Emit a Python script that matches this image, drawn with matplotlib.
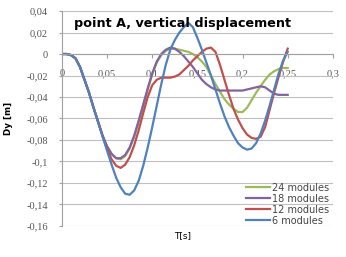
import numpy as np
from matplotlib import pyplot as plt
from matplotlib.ticker import FuncFormatter, MultipleLocator

# time axis [s]
t = [0, 0.005, 0.01, 0.015, 0.02, 0.025, 0.03, 0.035, 0.04, 0.045,
     0.05, 0.055, 0.06, 0.065, 0.07, 0.075, 0.08, 0.085, 0.09, 0.095,
     0.1, 0.105, 0.11, 0.115, 0.12, 0.125, 0.13, 0.135, 0.14, 0.145,
     0.15, 0.155, 0.16, 0.165, 0.17, 0.175, 0.18, 0.185, 0.19, 0.195,
     0.2, 0.205, 0.21, 0.215, 0.22, 0.225, 0.23, 0.235, 0.24, 0.245, 0.25]

dy_24 = [0, 0, -0.001, -0.004, -0.012, -0.024, -0.036, -0.050, -0.063, -0.076,
         -0.086, -0.093, -0.097, -0.098, -0.095, -0.088, -0.077, -0.063, -0.048, -0.033,
         -0.019, -0.008, -0.001, 0.003, 0.005, 0.005, 0.004, 0.003, 0.002, 0.000,
         -0.003, -0.007, -0.012, -0.020, -0.028, -0.035, -0.042, -0.047, -0.051, -0.054,
         -0.054, -0.050, -0.043, -0.036, -0.030, -0.024, -0.019, -0.016, -0.014, -0.013, -0.013]

dy_18 = [0, 0, -0.001, -0.004, -0.012, -0.024, -0.036, -0.050, -0.063, -0.076,
         -0.086, -0.093, -0.097, -0.097, -0.094, -0.087, -0.076, -0.062, -0.047, -0.032,
         -0.018, -0.007, 0.000, 0.004, 0.006, 0.005, 0.002, -0.002, -0.007, -0.012,
         -0.018, -0.024, -0.028, -0.031, -0.033, -0.034, -0.034, -0.034, -0.034, -0.034,
         -0.034, -0.033, -0.032, -0.031, -0.030, -0.031, -0.034, -0.037, -0.038, -0.038, -0.038]

dy_12 = [0, 0, -0.001, -0.004, -0.012, -0.024, -0.036, -0.050, -0.063, -0.076,
         -0.088, -0.098, -0.104, -0.106, -0.103, -0.096, -0.085, -0.071, -0.055, -0.040,
         -0.029, -0.024, -0.022, -0.022, -0.022, -0.021, -0.019, -0.015, -0.011, -0.006,
         -0.002, 0.002, 0.005, 0.006, 0.002, -0.010, -0.024, -0.038, -0.051, -0.061,
         -0.069, -0.075, -0.078, -0.079, -0.077, -0.068, -0.052, -0.036, -0.021, -0.007, 0.005]

dy_6 = [0, 0, -0.001, -0.004, -0.012, -0.024, -0.036, -0.050, -0.063, -0.077,
        -0.090, -0.103, -0.115, -0.124, -0.130, -0.131, -0.127, -0.118, -0.104, -0.087,
        -0.068, -0.048, -0.028, -0.010, 0.004, 0.013, 0.020, 0.025, 0.029, 0.025,
        0.015, 0.004, -0.008, -0.020, -0.033, -0.046, -0.058, -0.068, -0.076, -0.083,
        -0.087, -0.089, -0.088, -0.083, -0.074, -0.062, -0.048, -0.033, -0.018, -0.006, 0.002]

series = [("24 modules", dy_24, "#9BBB59"),
          ("18 modules", dy_18, "#8064A2"),
          ("12 modules", dy_12, "#C0504D"),
          ("6 modules", dy_6, "#4F81BD")]

fig = plt.figure(figsize=(3.46, 2.57), dpi=100)
ax = fig.add_axes([0.179, 0.121, 0.783, 0.836])

for name, vals, col in series:
    ax.plot(t, vals, color=col, lw=1.6, label=name)

ax.set_xlim(0, 0.3)
ax.set_ylim(-0.16, 0.04)
ax.xaxis.set_major_locator(MultipleLocator(0.05))
ax.yaxis.set_major_locator(MultipleLocator(0.02))

comma = FuncFormatter(lambda v, p: ("%g" % round(v, 3)).replace(".", ","))
ax.xaxis.set_major_formatter(comma)
ax.yaxis.set_major_formatter(comma)

# grid only horizontal
ax.yaxis.grid(True, color="#BFBFBF", lw=0.8)
ax.set_axisbelow(True)

for s in ["top", "right"]:
    ax.spines[s].set_visible(False)
ax.spines["left"].set_color("#A0A0A0")
ax.spines["bottom"].set_position(("data", 0))
ax.spines["bottom"].set_color("#A0A0A0")

ax.tick_params(axis="x", length=3, pad=8, colors="#A0A0A0", labelcolor="#555555",
               labelsize=7.5)
ax.tick_params(axis="y", length=2, pad=8, colors="#A0A0A0", labelcolor="#555555",
               labelsize=7.5)
for lab in ax.get_xticklabels() + ax.get_yticklabels():
    lab.set_family("Liberation Serif")

ax.text(0.045, 0.94, "point A, vertical displacement", transform=ax.transAxes,
        fontsize=9.2, fontweight="bold", ha="left", va="center")

fig.text(0.025, 0.54, "Dy [m]", rotation=90, fontsize=6.3, fontweight="bold",
         ha="center", va="center")
fig.text(0.527, 0.082, "T[s]", fontsize=6.5, ha="center", va="center")

leg = ax.legend(loc="lower right", bbox_to_anchor=(1.01, -0.03), frameon=False,
                fontsize=7, handlelength=2.4, handletextpad=0.2,
                labelspacing=0.1, borderpad=0.2)
for txt in leg.get_texts():
    txt.set_color("#444444")

fig.savefig("out.png", dpi=100)
